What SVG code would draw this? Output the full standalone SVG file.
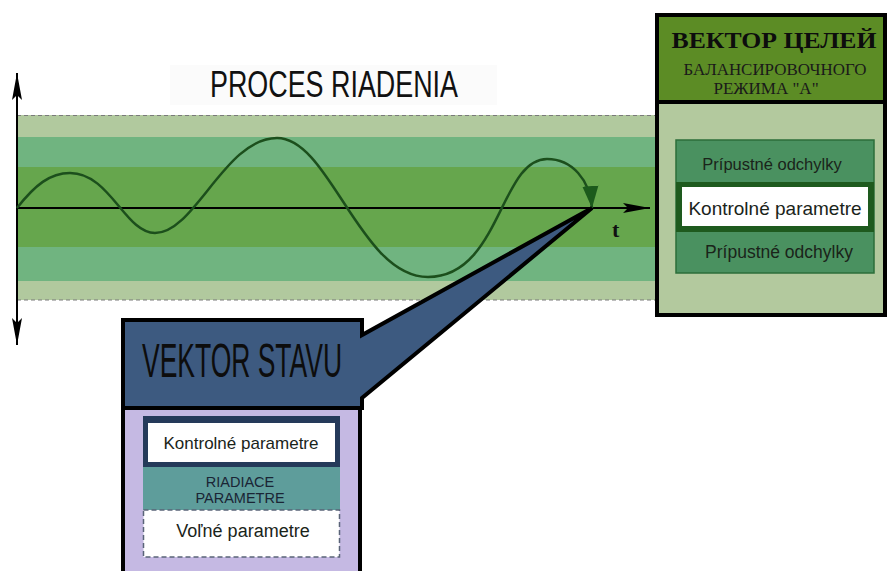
<svg xmlns="http://www.w3.org/2000/svg" width="887" height="571" viewBox="0 0 887 571">
<style>
.sans{font-family:"Liberation Sans",Arial,sans-serif}
.serif{font-family:"Liberation Serif","Times New Roman",serif}
.dash{stroke:#7a7a7a;stroke-width:1.2;stroke-dasharray:4 3;fill:none}
.axis{stroke:#000;stroke-width:2;fill:none}
.frame{stroke:#000;stroke-width:4;stroke-linejoin:miter}
.lbl{fill:#1a241a;text-anchor:middle}
</style>
<defs>
<marker id="ah" markerWidth="28" markerHeight="12" refX="27" refY="6" orient="auto" markerUnits="userSpaceOnUse">
<path d="M0,1 L27,6 L0,11 L5,6 Z" fill="#000"/>
</marker>
<marker id="cah" markerWidth="24" markerHeight="18" refX="22" refY="9" orient="auto" markerUnits="userSpaceOnUse">
<path d="M0,1 L22,9 L0,17 Z" fill="#1c5a1c"/>
</marker>
</defs>
<rect width="887" height="571" fill="#fff"/>

<g id="process">
<rect x="170" y="65" width="327" height="40" fill="#fbfbfb"/>
<text class="sans" x="210" y="97" font-size="36" textLength="248" lengthAdjust="spacingAndGlyphs" fill="#111">PROCES RIADENIA</text>
<rect x="17" y="115" width="640" height="185" fill="#b1c99e"/>
<rect x="17" y="137" width="640" height="30" fill="#70b480"/>
<rect x="17" y="167" width="640" height="80" fill="#66a64d"/>
<rect x="17" y="247" width="640" height="34" fill="#70b480"/>
<line class="dash" x1="17" y1="115.5" x2="657" y2="115.5"/>
<line class="dash" x1="17" y1="300" x2="657" y2="300"/>
<text class="serif" x="612" y="237" font-size="22" font-weight="bold" fill="#111">t</text>
</g>

<g id="connectors">
<line class="axis" x1="17" y1="208" x2="650" y2="208" marker-end="url(#ah)"/>
<line class="axis" x1="17" y1="208" x2="17" y2="73" marker-end="url(#ah)"/>
<line class="axis" x1="17" y1="208" x2="17" y2="345" marker-end="url(#ah)"/>
<path d="M17,208 C35,185 50,173 70,173 C110,173 125,233 155,233 C195,233 225,138 277,138 C330,138 360,277 428,277 C500,277 500,159 547,159 C572,159 590,180 592,208" fill="none" stroke="#1c4f1c" stroke-width="2.5" marker-end="url(#cah)"/>
</g>

<g id="vektor-cielov">
<rect x="657" y="15" width="228" height="300" fill="#b3c99e" class="frame"/>
<rect x="657" y="15" width="228" height="87" fill="#5c8c25" class="frame"/>
<text class="serif" x="774" y="48" font-size="24" font-weight="bold" text-anchor="middle" textLength="205" lengthAdjust="spacingAndGlyphs" fill="#0d0d0d">ВЕКТОР ЦЕЛЕЙ</text>
<text class="serif" x="775" y="75" font-size="16.5" text-anchor="middle" textLength="183" lengthAdjust="spacingAndGlyphs" fill="#1a1a1a">БАЛАНСИРОВОЧНОГО</text>
<text class="serif" x="766" y="94" font-size="17" text-anchor="middle" fill="#1a1a1a">РЕЖИМА "А"</text>
<rect x="676" y="140" width="198" height="133" fill="#4a9160" stroke="#2d6e3a" stroke-width="1.5"/>
<rect x="676" y="182" width="198" height="50" fill="#1e5a1e"/>
<rect x="682" y="187" width="186" height="39" fill="#fff"/>
<text class="sans lbl" x="772" y="170" font-size="16.5">Prípustné odchylky</text>
<text class="sans lbl" x="775" y="215" font-size="19" fill="#111">Kontrolné parametre</text>
<text class="sans lbl" x="779" y="258" font-size="17.5">Prípustné odchylky</text>
</g>

<g id="vektor-stavu">
<rect x="123" y="408" width="237" height="170" fill="#c5b9e3" class="frame"/>
<path d="M123,320 H362 V335 L592,208 L362,398 V408 H123 Z" fill="#3d5a80" class="frame"/>
<text class="sans" x="142" y="377" font-size="48" textLength="200" lengthAdjust="spacingAndGlyphs" fill="#0d0d0d">VEKTOR STAVU</text>
<rect x="143" y="416" width="197" height="51" fill="#253a5a"/>
<rect x="148" y="423" width="187" height="39" fill="#fff"/>
<text class="sans lbl" x="241" y="449" font-size="17" fill="#111">Kontrolné parametre</text>
<rect x="143" y="467" width="197" height="43" fill="#5e9d9b"/>
<text class="sans" x="240" y="487" font-size="14.5" text-anchor="middle" fill="#1a2535">RIADIACE</text>
<text class="sans" x="240" y="503" font-size="14.5" text-anchor="middle" fill="#1a2535">PARAMETRE</text>
<rect x="143.5" y="510" width="196" height="47" fill="#fff" stroke="#5a6478" stroke-width="1.5" stroke-dasharray="5 3"/>
<text class="sans lbl" x="243" y="537" font-size="18" fill="#111">Voľné parametre</text>
</g>
</svg>
